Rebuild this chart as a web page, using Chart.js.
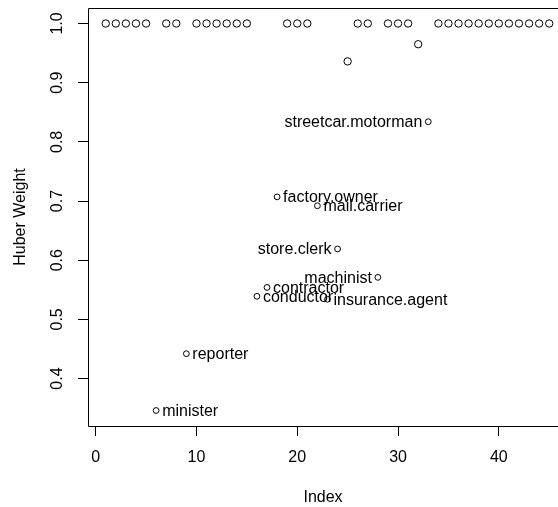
<!DOCTYPE html>
<html>
<head>
<meta charset="utf-8">
<script src="https://cdn.jsdelivr.net/npm/chart.js@4/dist/chart.umd.min.js"></script>
<style>
	body { margin: 0; background: #fff; }
	canvas { display: block; }
</style>
</head>
<body>
<canvas id="huberChart" width="558" height="507"></canvas>
<script>
var obsIndex = [];
for (var i = 1; i <= 45; i++) obsIndex.push(i);

var huberWeights = [
	1, 1, 1, 1, 1, 0.346, 1, 1, 0.442, 1,
	1, 1, 1, 1, 1, 0.539, 0.554, 0.707, 1, 1,
	1, 0.692, 0.534, 0.619, 0.936, 1, 1, 0.571, 1, 1,
	1, 0.965, 0.834, 1, 1, 1, 1, 1, 1, 1,
	1, 1, 1, 1, 1
];

// labelled points (index -> name), and which ones get their label on the left
var pointNames = {
	6: 'minister', 9: 'reporter', 16: 'conductor', 17: 'contractor',
	18: 'factory.owner', 22: 'mail.carrier', 23: 'insurance.agent',
	24: 'store.clerk', 28: 'machinist', 33: 'streetcar.motorman'
};
var leftLabels = [24, 28, 33];

var xTicks = [0, 10, 20, 30, 40];
var yTicks = [0.4, 0.5, 0.6, 0.7, 0.8, 0.9, 1.0];

var FONT = '"Liberation Sans", Arial, Helvetica, sans-serif';

var points = obsIndex.map(function(x, k) {
	return { x: x, y: huberWeights[k] };
});
var radii = obsIndex.map(function(x) {
	return pointNames[x] ? 2.9 : 3.7;
});

// frame round the plot region, like box() in R (right side falls off the canvas)
var framePlugin = {
	id: 'frame',
	afterDraw: function(chart) {
		var a = chart.chartArea;
		var ctx = chart.ctx;
		var l = Math.round(a.left) + 0.5;
		var t = Math.round(a.top) + 0.5;
		var b = Math.round(a.bottom) + 0.5;
		ctx.save();
		ctx.strokeStyle = '#000';
		ctx.lineWidth = 1;
		ctx.beginPath();
		ctx.moveTo(chart.width, t);
		ctx.lineTo(l, t);
		ctx.lineTo(l, b);
		ctx.lineTo(chart.width, b);
		ctx.stroke();
		ctx.restore();
	}
};

// text labels next to the unusual points
var labelPlugin = {
	id: 'pointLabels',
	afterDatasetsDraw: function(chart) {
		var meta = chart.getDatasetMeta(0);
		var ctx = chart.ctx;
		ctx.save();
		ctx.font = '16px ' + FONT;
		ctx.fillStyle = '#000';
		ctx.textBaseline = 'middle';
		meta.data.forEach(function(el, k) {
			var idx = obsIndex[k];
			var name = pointNames[idx];
			if (!name) return;
			if (leftLabels.indexOf(idx) >= 0) {
				ctx.textAlign = 'right';
				ctx.fillText(name, el.x - 6, el.y + 1);
			} else {
				ctx.textAlign = 'left';
				ctx.fillText(name, el.x + 6, el.y + 1);
			}
		});
		ctx.restore();
	}
};

var chartConfig = {
	type: 'scatter',
	data: {
		datasets: [{
			data: points,
			pointStyle: 'circle',
			pointRadius: radii,
			pointBackgroundColor: 'rgba(0,0,0,0)',
			pointBorderColor: '#000',
			pointBorderWidth: 1,
			clip: false
		}]
	},
	options: {
		responsive: false,
		animation: false,
		layout: {
			autoPadding: false,
			padding: { top: 8, right: 0, left: 0, bottom: 0 }
		},
		plugins: {
			legend: { display: false },
			tooltip: { enabled: false }
		},
		scales: {
			x: {
				type: 'linear',
				min: -0.76,
				max: 45.87,
				afterBuildTicks: function(scale) {
					scale.ticks = xTicks.map(function(v) { return { value: v }; });
				},
				afterFit: function(scale) {
					scale.height = 81;
					scale.paddingLeft = 0;
					scale.paddingRight = 0;
				},
				border: { display: false },
				grid: {
					drawOnChartArea: false,
					drawTicks: true,
					tickLength: 10,
					tickColor: '#000',
					lineWidth: 1
				},
				ticks: {
					autoSkip: false,
					maxRotation: 0,
					padding: 12,
					color: '#000',
					font: { family: FONT, size: 16 },
					callback: function(v) { return String(v); }
				},
				title: {
					display: true,
					text: 'Index',
					color: '#000',
					font: { family: FONT, size: 16 },
					padding: { top: 0, bottom: 0 }
				}
			},
			y: {
				type: 'linear',
				min: 0.3198,
				max: 1.0262,
				afterBuildTicks: function(scale) {
					scale.ticks = yTicks.map(function(v) { return { value: v }; });
				},
				afterFit: function(scale) {
					scale.width = 88;
					scale.paddingTop = 0;
					scale.paddingBottom = 0;
				},
				border: { display: false },
				grid: {
					drawOnChartArea: false,
					drawTicks: true,
					tickLength: 10,
					tickColor: '#000',
					lineWidth: 1
				},
				ticks: {
					autoSkip: false,
					minRotation: 90,
					maxRotation: 90,
					crossAlign: 'center',
					padding: 9,
					color: '#000',
					font: { family: FONT, size: 16 },
					callback: function(v) { return v.toFixed(1); }
				},
				title: {
					display: true,
					text: 'Huber Weight',
					color: '#000',
					font: { family: FONT, size: 16 },
					padding: { top: 11, bottom: 0 }
				}
			}
		}
	},
	plugins: [framePlugin, labelPlugin]
};

var chart = new Chart(document.getElementById('huberChart'), chartConfig);
</script>
</body>
</html>
